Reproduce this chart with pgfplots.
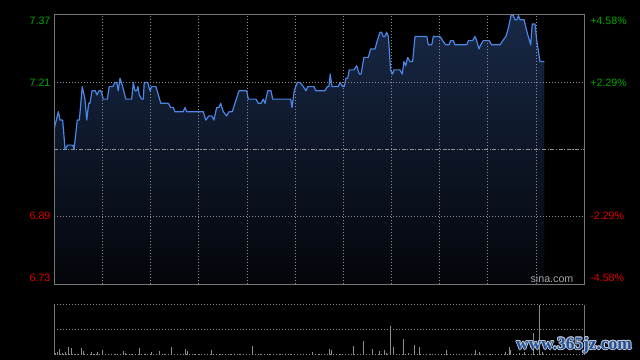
\documentclass[border=0pt]{standalone}
\usepackage{fontspec}
\setmainfont{Liberation Sans}
\newfontfamily\wmfont{Liberation Serif}
\usepackage{pgfplots}
\usepackage{pgfplotstable}
\pgfplotsset{compat=1.18}
\definecolor{upgreen}{RGB}{0,168,0}
\definecolor{downred}{RGB}{224,0,0}
\definecolor{framegray}{RGB}{118,118,118}
\definecolor{gridgray}{RGB}{140,140,140}
\definecolor{pricelin}{RGB}{74,134,230}
\definecolor{filltop}{RGB}{24,40,70}
\definecolor{fillbot}{RGB}{3,5,9}
\definecolor{volgray}{RGB}{140,140,140}
\definecolor{wmblue}{RGB}{34,78,150}
\definecolor{wmedge}{RGB}{190,200,215}

\pgfplotstableread{
m v
0 7.10
2.5 7.14
3.5 7.12
5.2 7.12
6.7 7.05
8.3 7.06
11.5 7.06
12.3 7.05
14.3 7.12
15.6 7.12
17.4 7.20
19.1 7.17
20.2 7.12
21.4 7.16
22.2 7.16
23.5 7.19
25.5 7.19
26.6 7.18
27.8 7.19
29.1 7.19
30.5 7.17
33.0 7.17
34.2 7.20
36.4 7.20
37.8 7.21
38.9 7.21
39.8 7.19
40.9 7.22
42.6 7.20
44.5 7.17
48.2 7.17
49.2 7.21
50.2 7.19
51.3 7.19
52.1 7.20
52.9 7.18
54.4 7.17
55.4 7.17
56.0 7.21
58.2 7.21
59.6 7.19
60.6 7.20
63.3 7.20
64.8 7.18
66.3 7.16
71.0 7.16
72.5 7.15
74.1 7.15
75.1 7.14
80.3 7.14
81.4 7.15
82.4 7.14
92.8 7.14
94.3 7.12
96.3 7.13
98.0 7.13
99.4 7.12
101.1 7.15
102.5 7.15
103.6 7.16
105.2 7.14
107.3 7.13
108.8 7.14
110.8 7.14
112.5 7.16
115.0 7.19
119.8 7.19
120.8 7.17
125.6 7.17
127.0 7.16
128.7 7.16
130.1 7.17
131.2 7.16
132.9 7.19
134.9 7.19
136.0 7.17
147.2 7.17
148.0 7.15
149.4 7.19
151.3 7.21
153.0 7.21
155.0 7.20
156.7 7.19
157.8 7.20
161.7 7.20
162.8 7.19
168.5 7.19
170.0 7.20
171.0 7.20
171.8 7.23
172.9 7.20
176.8 7.20
177.9 7.21
179.6 7.20
180.6 7.20
181.6 7.22
182.7 7.22
183.7 7.24
186.6 7.24
188.3 7.25
189.9 7.23
191.0 7.23
192.8 7.27
195.5 7.27
197.0 7.29
199.7 7.29
201.1 7.31
202.8 7.33
203.8 7.33
204.8 7.32
205.9 7.32
206.9 7.33
208.0 7.32
209.4 7.24
210.7 7.23
211.5 7.24
215.2 7.24
216.7 7.23
217.7 7.26
218.8 7.25
220.0 7.27
221.5 7.26
223.1 7.26
224.6 7.32
231.9 7.32
232.9 7.30
235.0 7.30
236.0 7.32
240.1 7.32
241.8 7.31
243.7 7.30
245.7 7.30
246.8 7.31
248.4 7.31
249.5 7.30
256.8 7.30
257.8 7.31
260.5 7.31
261.9 7.32
263.0 7.31
264.4 7.29
265.5 7.30
267.1 7.31
270.8 7.31
272.3 7.30
277.5 7.30
279.2 7.31
281.2 7.32
282.7 7.34
284.4 7.37
285.8 7.37
286.9 7.36
288.0 7.36
289.0 7.37
290.0 7.36
292.5 7.36
293.7 7.34
295.1 7.32
296.6 7.30
297.6 7.35
299.3 7.35
300.4 7.31
302.4 7.26
305.1 7.26
}\pricedata

\pgfplotstableread{
m v
0 6.727
}\filldata
\pgfplotstablevertcat{\filldata}{\pricedata}
\pgfplotstableread{
m v
305.1 6.727
}\fillend
\pgfplotstablevertcat{\filldata}{\fillend}

\pgfplotstableread{
m vol
0.9 2
1.9 3
3.5 5.7
5.2 1.4
6.7 3
8.7 7.7
10.4 6.3
12.5 1
14.6 1
16.8 6.3
18.1 3.7
20.4 1
23.3 3
25.3 1
27.0 3
29.9 4.7
31.6 1
37.8 1
43.0 4
44.6 1.5
47.8 1
52.9 6.7
56.5 1
60.6 2.7
65.4 4
68.9 1
73.0 7.7
76.4 1
81.6 5.7
82.9 3.7
87.6 1
90.7 1
97.7 4.7
103.2 1
109.4 1
115.6 1
123.3 8.7
128.1 1
134.3 1
140.6 1
146.8 1
153.0 1
160.6 2.7
165.4 1
171.2 5.7
172.7 4.7
177.9 1
186.2 8.7
192.4 13.7
198.0 5.7
202.3 4
205.5 4.7
206.7 2
209.2 28.7
211.1 8
215.2 1
217.3 15.7
220.4 2
224.1 9.7
227.2 8
234.1 1
244.3 4.7
252.6 1
262.0 4.7
264.5 2.3
271.3 1
281.2 3
283.3 8
284.3 4.7
289.9 2
293.0 3
298.2 21.7
302.0 50
303.7 3
}\voldata

\begin{document}
\begin{tikzpicture}[x=1pt,y=1pt]
\path[use as bounding box, fill=black] (0,0) rectangle (480,-270);

% main price panel
\begin{axis}[
  at={(40.725pt,-213.225pt)}, anchor=south west,
  width=397.5pt, height=202.5pt, scale only axis,
  xmin=0, xmax=330, ymin=6.727, ymax=7.373,
  axis on top,
  axis line style={framegray, line width=0.75pt},
  xtick={30,60,...,300}, xticklabels={}, xmajorgrids,
  ytick={6.742,6.89,7.21,7.358},
  yticklabels={\textcolor{downred}{6.73},\textcolor{downred}{6.89},\textcolor{upgreen}{7.21},\textcolor{upgreen}{7.37}},
  extra y ticks={6.89,7.21}, extra y tick labels={},
  extra y tick style={grid=major},
  major tick length=0pt,
  major grid style={gridgray, line width=0.75pt, dash pattern=on 0.75pt off 1.5pt},
  yticklabel style={font=\fontsize{8}{9}\selectfont, inner sep=0pt, xshift=-2.7pt},
]
\addplot[draw=none, top color=filltop, bottom color=fillbot] table[x=m,y=v] {\filldata};
\addplot[gray!85!white, line width=0.75pt, dash pattern=on 3pt off 1.2pt on 0.8pt off 1.2pt] coordinates {(0,7.05) (330,7.05)};
\addplot[pricelin, line width=0.9pt, no markers, line join=round] table[x=m,y=v] {\pricedata};
\end{axis}

% right-hand percentage labels
\begin{axis}[
  at={(40.725pt,-213.225pt)}, anchor=south west,
  width=397.5pt, height=202.5pt, scale only axis,
  xmin=0, xmax=330, ymin=6.727, ymax=7.373,
  hide x axis, axis y line*=right, y axis line style={draw=none},
  ytick={6.742,6.89,7.21,7.358},
  yticklabels={\textcolor{downred}{-4.58\%},\textcolor{downred}{-2.29\%},\textcolor{upgreen}{+2.29\%},\textcolor{upgreen}{+4.58\%}},
  major tick length=0pt,
  yticklabel style={font=\fontsize{8}{9}\selectfont, inner sep=0pt, xshift=4.3pt},
]
\addplot[draw=none] coordinates {(0,7.05)};
\end{axis}

% volume panel
\begin{axis}[
  at={(40.725pt,-266.025pt)}, anchor=south west,
  width=397.5pt, height=37.5pt, scale only axis,
  xmin=0, xmax=330, ymin=0, ymax=50,
  axis line style={draw=none},
  xtick=\empty, ytick={0,25,50}, yticklabels={},
  ymajorgrids, major tick length=0pt,
  major grid style={gridgray, line width=0.75pt, dash pattern=on 0.75pt off 1.5pt},
  clip=false,
]
\addplot[ycomb, volgray, line width=0.75pt, no markers] table[x=m,y=vol] {\voldata};
\draw[framegray, line width=0.75pt] (rel axis cs:0,0) -- (rel axis cs:0,1);
\draw[framegray, line width=0.75pt] (rel axis cs:1,0) -- (rel axis cs:1,1);
\end{axis}

\node[text=gray!70!white, font=\fontsize{8}{9}\selectfont] at (414,-209.3) {sina.com};

% watermark
\foreach \dx/\dy in {0.7/0,-0.7/0,0/0.7,0/-0.7,0.5/0.5,-0.5/0.5,0.5/-0.5,-0.5/-0.5}{
  \node[text=wmedge, font=\wmfont\bfseries\fontsize{13}{14}\selectfont] at (430.5+\dx,-258.75+\dy) {www.365jz.com};
}
\node[text=wmblue, font=\wmfont\bfseries\fontsize{13}{14}\selectfont] at (430.5,-258.75) {www.365jz.com};
\end{tikzpicture}
\end{document}
